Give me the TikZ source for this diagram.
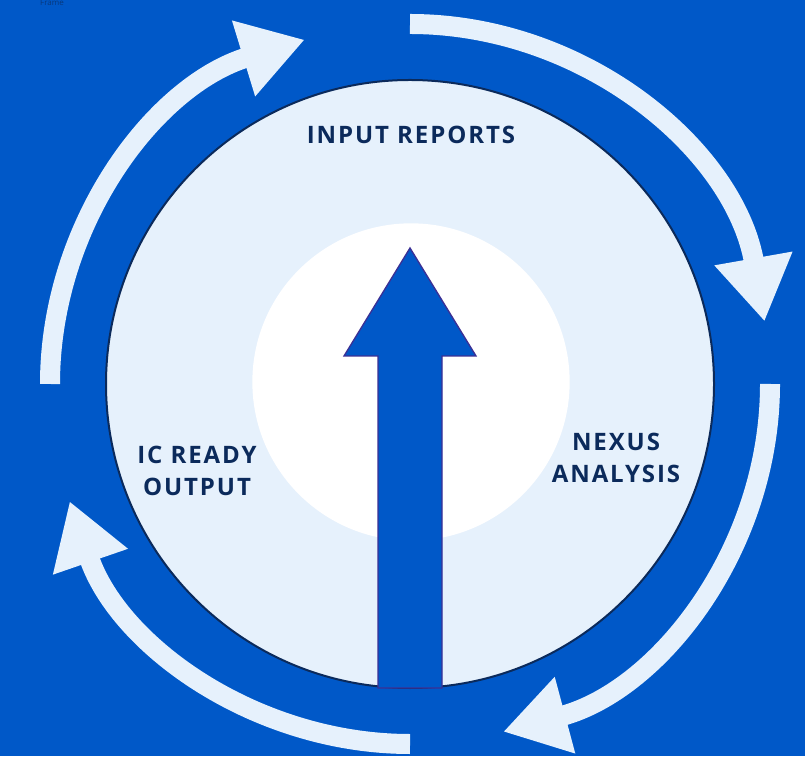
\documentclass[tikz,border=0pt]{standalone}
\usepackage{fontspec}
\setsansfont{Open Sans}
\usetikzlibrary{arrows.meta}
\definecolor{bg}{HTML}{0058C8}
\definecolor{pale}{HTML}{E6F1FC}
\definecolor{navy}{HTML}{0B2A5B}
\definecolor{purp}{HTML}{3B3095}
\newfontfamily\lblfont[LetterSpace=8]{Open Sans}
\begin{document}
\begin{tikzpicture}[x=0.75pt,y=0.75pt,
  cyc/.style={draw=pale,line width=15pt,-{Triangle[width=56pt,length=48pt]}},
  lbl/.style={text=navy,font=\lblfont\bfseries\fontsize{18}{24}\selectfont,align=center}]
\fill[bg] (0,0) rectangle (805,756);
\useasboundingbox (0,0) rectangle (805,756);
\coordinate (c) at (410,372);
\node[text=navy!70!bg,font=\sffamily\fontsize{6}{7}\selectfont] (fr) at (52,753) {Frame};
\fill[pale,draw=navy,line width=1.5pt] (c) circle[radius=228pt];
\fill[white] (411,374) circle[radius=119pt];
% cycle arcs
\draw[cyc] ([shift={(180:270pt)}]c) arc[start angle=180,end angle=107,radius=270pt];
\draw[cyc] ([shift={(90:270pt)}]c) arc[start angle=90,end angle=10,radius=270pt];
\draw[cyc] ([shift={(0:270pt)}]c) arc[start angle=0,end angle=-75,radius=270pt];
\draw[cyc] ([shift={(270:270pt)}]c) arc[start angle=270,end angle=199,radius=270pt];
% main arrow
\fill[bg,draw=purp,line width=1pt] (378,68) -- (378,400) -- (344,400) -- (410,508) -- (476,400) -- (442,400) -- (442,68) -- cycle;
\node[lbl] (ir) at (411,621) {INPUT REPORTS};
\node[lbl] (ic) at (197,285) {IC READY\\OUTPUT};
\node[lbl] (nx) at (616,298) {NEXUS\\ANALYSIS};
\end{tikzpicture}
\end{document}
